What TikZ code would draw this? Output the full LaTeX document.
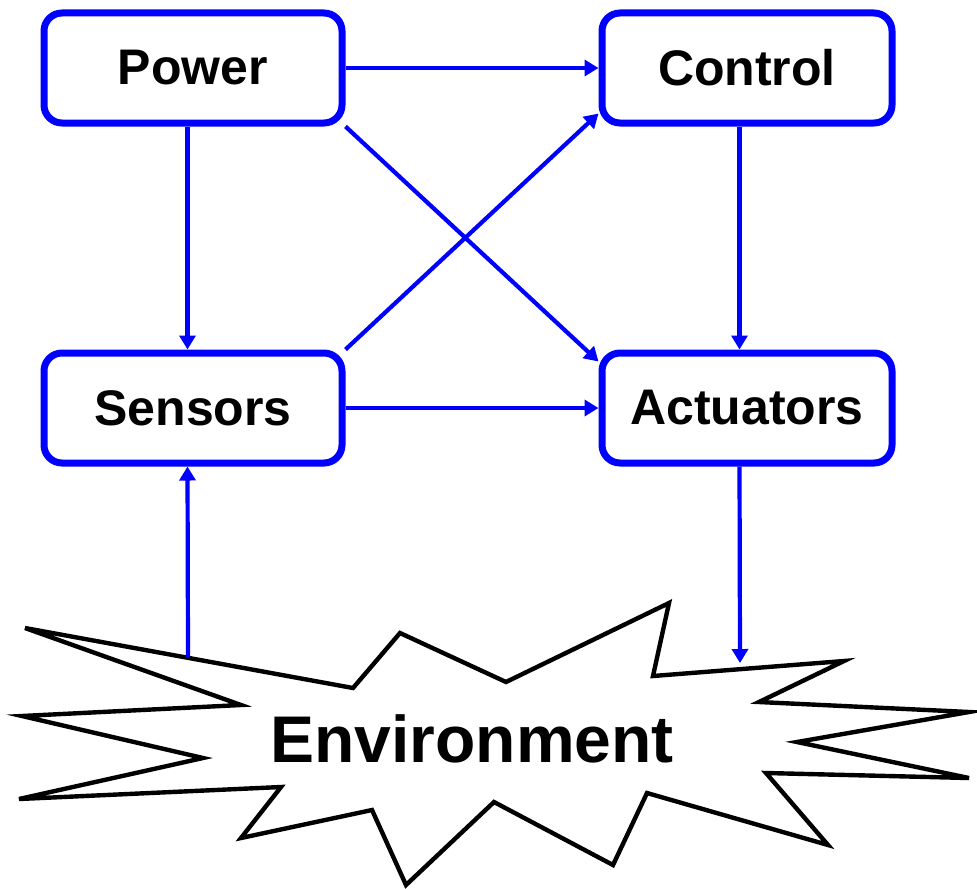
\documentclass[tikz,border=0pt]{standalone}
\usepackage{fontspec}
\setmainfont{Liberation Sans}
\usepackage{tikz}
\usetikzlibrary{arrows.meta,calc,positioning}
\definecolor{SysBlue}{HTML}{0000FF}
\tikzset{
  >={Triangle[length=7pt,width=8pt]},
  blockbox/.style={draw=SysBlue,line width=3.5pt,rounded corners=9pt,fill=white,
    minimum width=149pt,minimum height=55pt,inner sep=0pt,
    font=\fontsize{25}{30}\selectfont\bfseries},
  flow/.style={->,line width=2.1pt,draw=SysBlue},
  burst/.style={draw=black,line width=2.2pt,fill=white,line join=miter},
  envlabel/.style={font=\fontsize{33}{38}\selectfont\bfseries,inner sep=0pt}
}

\begin{document}
\begin{tikzpicture}[x=0.5pt,y=-0.5pt]
  \useasboundingbox (0,0) rectangle (977,888);
  \node[blockbox] (Power) at (193,68) {Power};
  \node[blockbox,minimum width=145pt] (Control) at (747,68) {Control};
  \node[blockbox] (Sensors) at (193,408) {Sensors};
  \node[blockbox,minimum width=145pt] (Actuators) at (747,408) {Actuators};
  % environment burst
  \draw[burst] (25,628) -- (353,688) -- (400,633) -- (506,682) -- (669,603) -- (653,676)
    -- (844,661) -- (759,702) -- (969,712) -- (797,742) -- (969,778) -- (766,773)
    -- (828,845) -- (647,793) -- (613,865) -- (494,802) -- (406,885) -- (372,810)
    -- (241,838) -- (281,787) -- (19,799) -- (203,758) -- (22,716) -- (241,705) -- cycle;
  \node[envlabel,anchor=base] (Environment) at (472,762) {Environment};
  \coordinate (envLeft) at (188,657);
  \coordinate (envTop) at (740,663);
  \draw[flow] (Power) -- (Control);
  \draw[flow] ([xshift=-2.75pt]Power.south) -- ([xshift=-2.75pt]Sensors.north);
  \draw[flow] (Power.south east) -- ([yshift=-6pt]Actuators.north west);
  \draw[flow] (Sensors.north east) -- ([yshift=6.5pt]Control.south west);
  \draw[flow] (Sensors) -- (Actuators);
  \draw[flow] ([xshift=-3.75pt]Control.south) -- ([xshift=-3.75pt]Actuators.north);
  \draw[flow] (envLeft) -- ([xshift=-2.75pt]Sensors.south);
  \draw[flow] ([xshift=-3.75pt]Actuators.south) -- (envTop);
\end{tikzpicture}
\end{document}
